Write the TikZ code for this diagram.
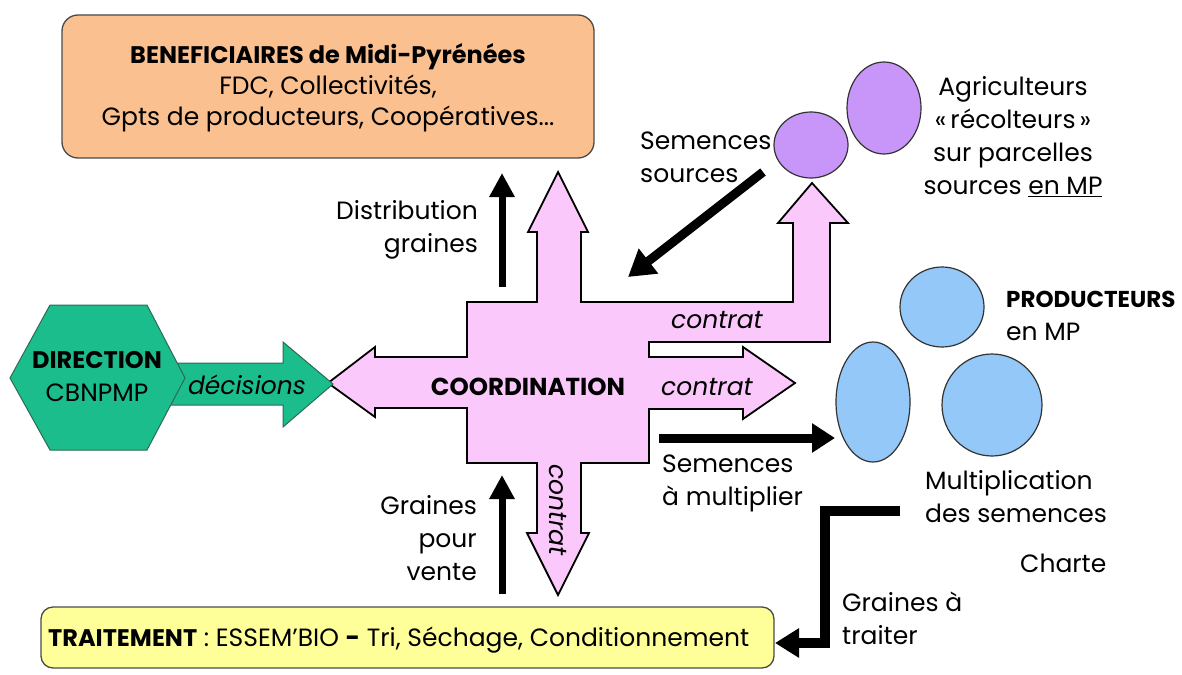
\documentclass[tikz,border=0pt]{standalone}
\usepackage{fontspec}
\setmainfont{Poppins}
\usetikzlibrary{arrows.meta}
\definecolor{orangefill}{HTML}{FAC090}
\definecolor{pinkfill}{HTML}{FBC8FB}
\definecolor{purplefill}{HTML}{C896F8}
\definecolor{bluefill}{HTML}{93C8F8}
\definecolor{greenfill}{HTML}{1CBD8D}
\definecolor{greenline}{HTML}{2E6A52}
\definecolor{yellowfill}{HTML}{FFFF99}
\definecolor{boxline}{HTML}{4A4A4A}
\newcommand{\bsmall}[1]{{\fontsize{24}{33}\selectfont\bfseries #1}}
\begin{document}
\begin{tikzpicture}[x=1pt,y=-1pt,line join=miter,
  txt/.style={font=\fontsize{25}{33}\selectfont, inner sep=0pt, align=center},
  btxt/.style={font=\fontsize{24.5}{33}\selectfont\bfseries, inner sep=0pt, align=center},
  itxt/.style={font=\fontsize{25}{33}\selectfont\itshape, inner sep=0pt, align=center},
  roundbox/.style={draw=boxline, line width=1.3pt, rounded corners=16pt},
  blob/.style={draw=black!80, line width=1.2pt},
  blk/.style={line width=7pt, -{Triangle[length=24pt,width=24pt]}},
  pinkshape/.style={draw=black, line width=1.8pt, fill=pinkfill},
  greenshape/.style={draw=greenline, line width=1pt, fill=greenfill}]
\useasboundingbox (0,0) rectangle (1182,674);
% boxes
\draw[roundbox, fill=orangefill] (62,15) rectangle (594,158);
\node[txt, font=\fontsize{25}{31}\selectfont] (benef) at (328,88) {\bsmall{BENEFICIAIRES de Midi-Pyrénées}\\FDC, Collectivités,\\Gpts de producteurs, Coopératives...};
\draw[roundbox, fill=yellowfill, rounded corners=12pt] (41,607) rectangle (774,668);
\node[txt, anchor=west] (trait) at (48,640) {\bsmall{TRAITEMENT} : ESSEM'BIO \textbf{-} Tri, Séchage, Conditionnement};
% pink cross
\draw[pinkshape] (558,172) -- (588,232) -- (581,232) -- (581,302) -- (793,302) -- (793,223) -- (778,223) -- (812,183) -- (848,223) -- (830,223) -- (830,342) -- (649,342) -- (649,357) -- (743,357) -- (743,347) -- (795,383) -- (743,419) -- (743,409) -- (649,409) -- (649,463) -- (581,463) -- (581,533) -- (589,533) -- (558,595) -- (527,533) -- (537,533) -- (537,463) -- (467,463) -- (467,408) -- (375,408) -- (375,417) -- (328,383) -- (375,347) -- (375,357) -- (467,357) -- (467,302) -- (537,302) -- (537,232) -- (528,232) -- cycle;
\node[btxt] (coord) at (528,387) {COORDINATION};
\node[itxt] (c1) at (717,320) {contrat};
\node[itxt] (c2) at (707,387) {contrat};
\node[itxt, rotate=-90] (c3) at (558,510) {contrat};
% green arrow and hexagon
\draw[greenshape] (170,363) -- (283,363) -- (283,342) -- (333,384) -- (283,427) -- (283,405) -- (170,405) -- cycle;
\draw[greenshape] (10,378) -- (50,305) -- (147,305) -- (185,378) -- (147,450) -- (50,450) -- cycle;
\node[itxt] (dec) at (247,385) {décisions};
\node[txt] (dir) at (97,377) {\bsmall{DIRECTION}\\CBNPMP};
% purple blobs
\draw[blob, fill=purplefill] (811,145) ellipse [x radius=37, y radius=33];
\draw[blob, fill=purplefill] (884,108) ellipse [x radius=37, y radius=46];
\node[txt] (agri) at (1013,137) {Agriculteurs\\«\,récolteurs\,»\\sur parcelles\\sources \underline{en MP}};
% blue blobs
\draw[blob, fill=bluefill] (942,307) ellipse [x radius=42, y radius=40];
\draw[blob, fill=bluefill] (873,402) ellipse [x radius=37, y radius=60];
\draw[blob, fill=bluefill] (992,405) ellipse [x radius=50, y radius=51];
\node[txt, anchor=west, align=left] (prod) at (1006,316) {{\fontsize{23}{33}\selectfont\bfseries PRODUCTEURS}\\en MP};
\node[txt, anchor=west, align=left] (mult) at (925,497) {Multiplication\\des semences};
\node[txt, anchor=west] (charte) at (1020,563) {Charte};
% labels
\node[txt, anchor=east, align=right] (distr) at (478,230) {Distribution\\graines};
\node[txt, anchor=east, align=right] (gpv) at (477,538) {Graines\\pour\\vente};
\node[txt, anchor=west, align=left] (ssrc) at (640,157) {Semences\\sources};
\node[txt, anchor=west, align=left] (smul) at (662,483) {Semences\\à multiplier};
\node[txt, anchor=west, align=left] (gat) at (842,618) {Graines à\\traiter};
% black arrows
\coordinate (a1s) at (502,287); \coordinate (a1e) at (502,173);
\coordinate (a2s) at (502,594); \coordinate (a2e) at (502,475);
\coordinate (a3s) at (763,172); \coordinate (a3e) at (628,277);
\coordinate (a4s) at (659,438); \coordinate (a4e) at (835,438);
\coordinate (a5s) at (900,511); \coordinate (a5b) at (825,511); \coordinate (a5c) at (825,643); \coordinate (a5e) at (775,643);
\draw[blk] (a1s) -- (a1e);
\draw[blk] (a2s) -- (a2e);
\draw[blk, line width=9pt, -{Triangle[length=26pt,width=30pt]}] (a3s) -- (a3e);
\draw[blk, line width=9pt, -{Triangle[length=23pt,width=28pt]}] (a4s) -- (a4e);
\draw[blk, line width=10pt, -{Triangle[length=24pt,width=28pt]}] (a5s) -- (a5b) -- (a5c) -- (a5e);
\end{tikzpicture}
\end{document}
